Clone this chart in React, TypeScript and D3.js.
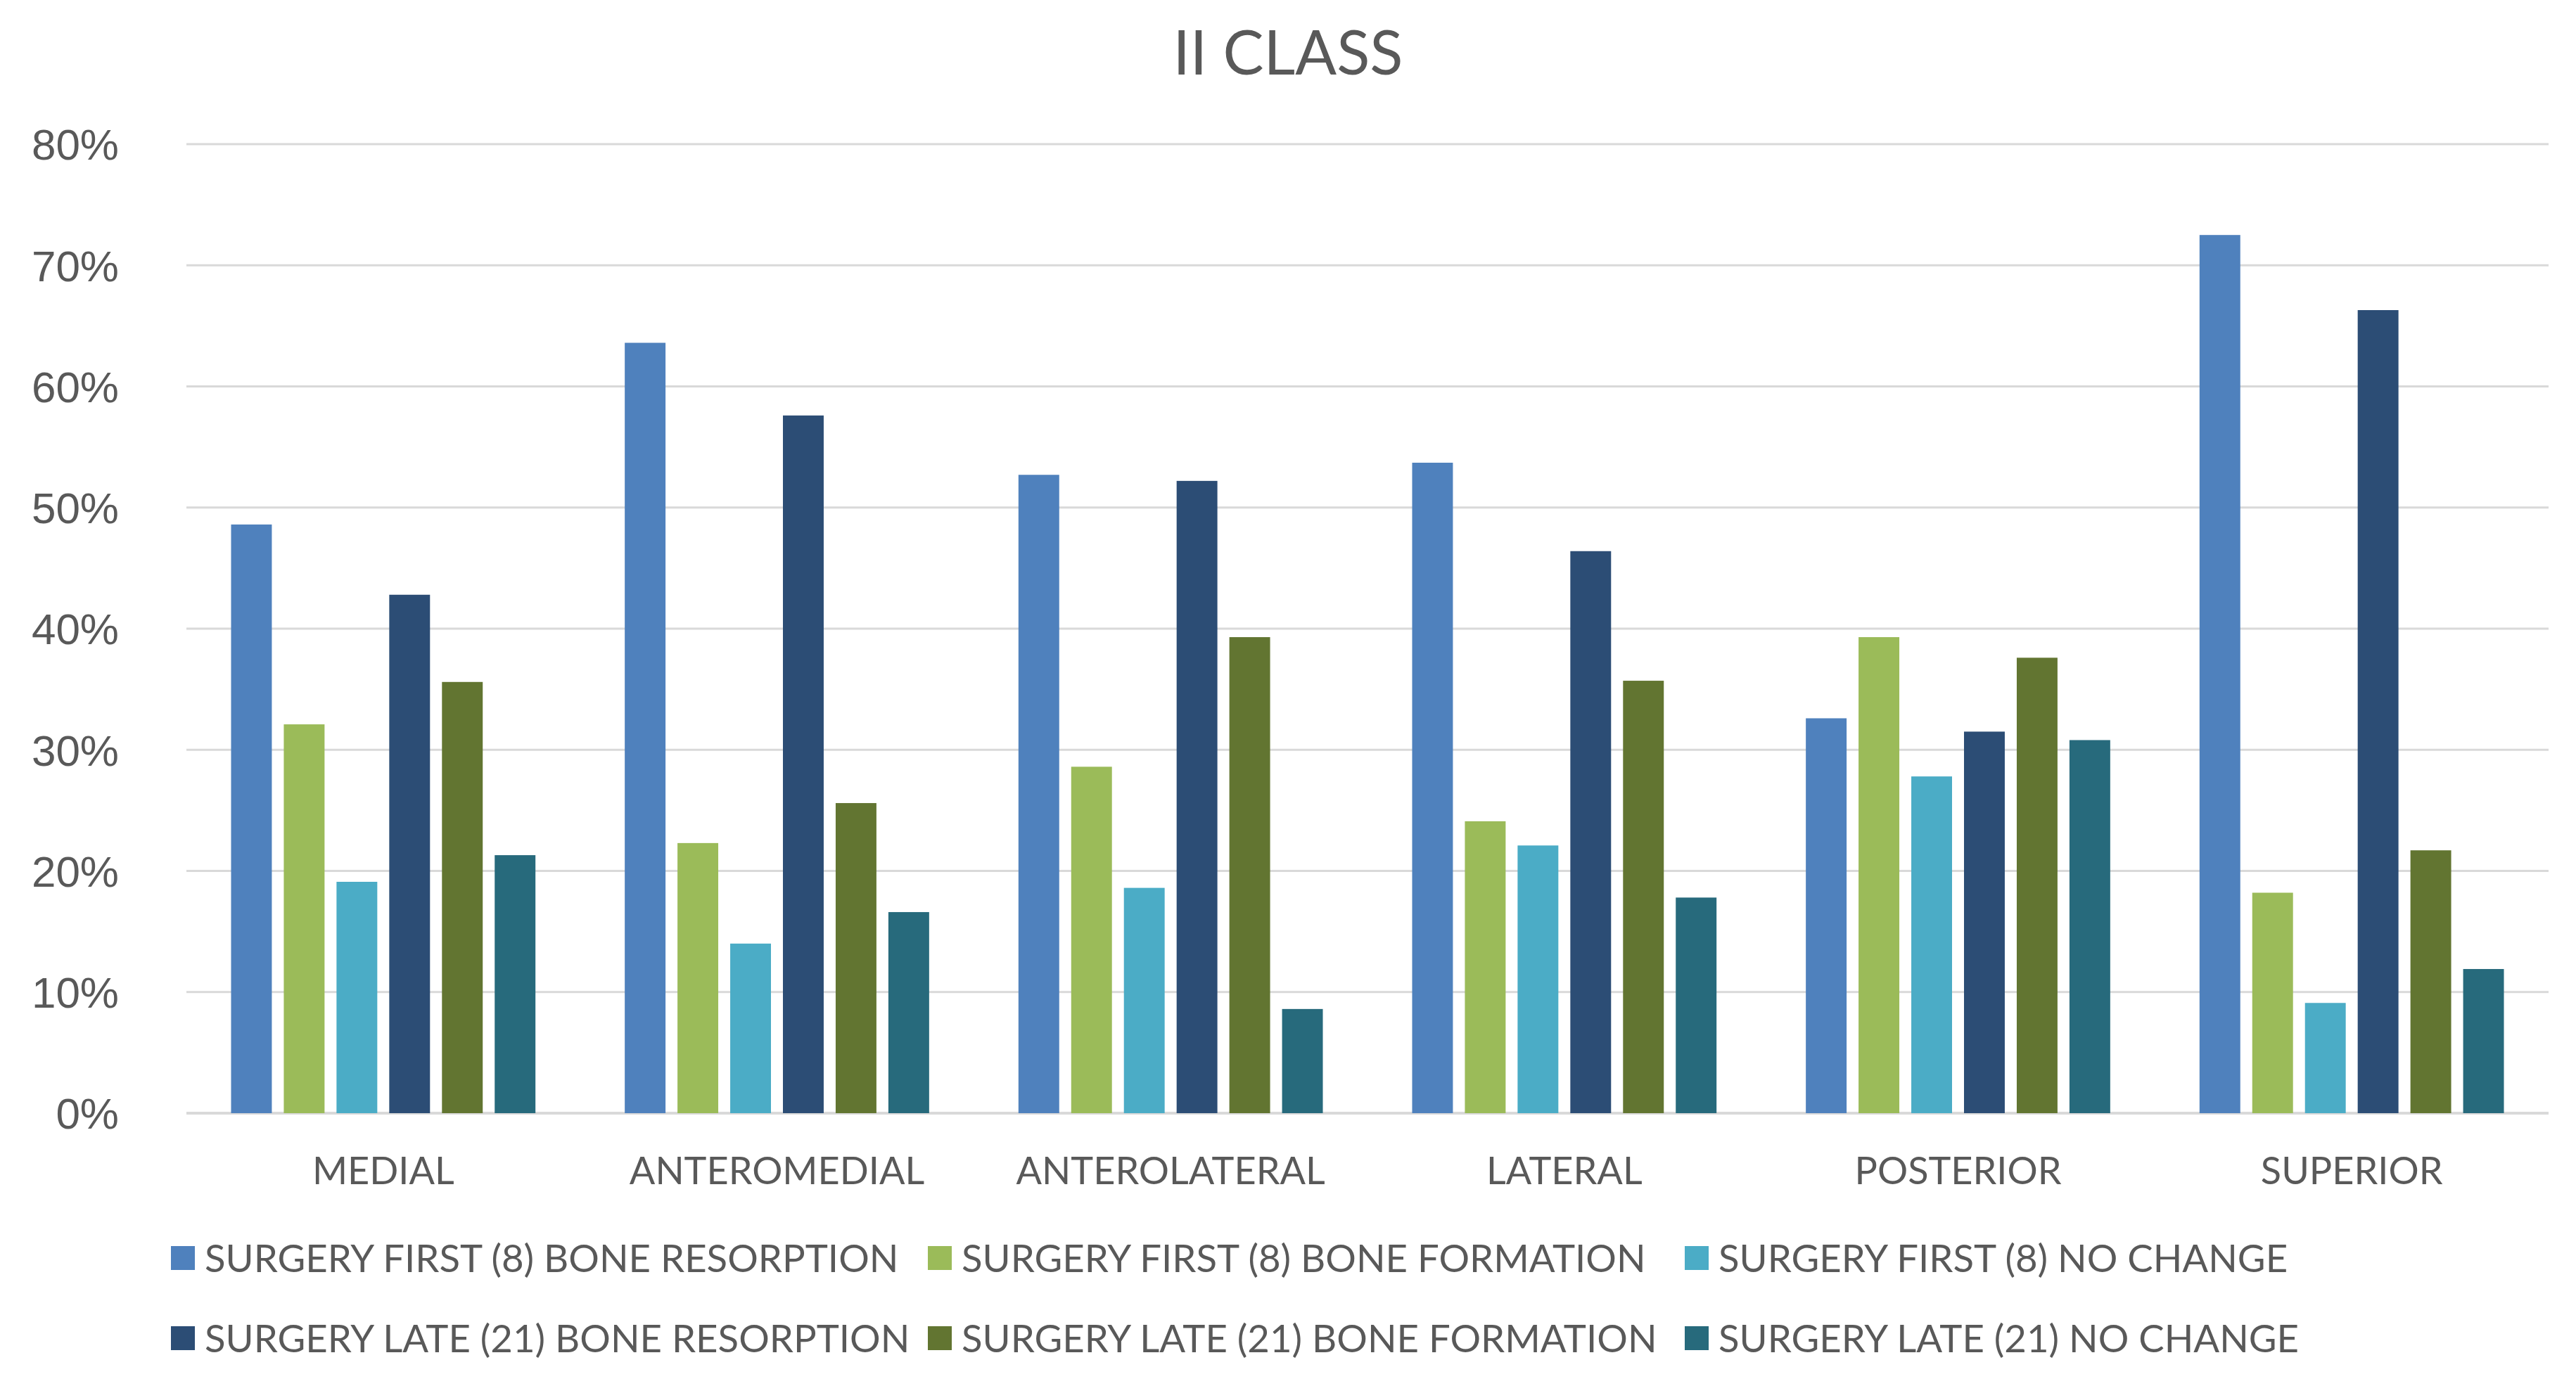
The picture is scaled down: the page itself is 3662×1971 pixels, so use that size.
import { useRef, useEffect } from 'react'
import * as d3 from 'd3'

const categories = ["MEDIAL", "ANTEROMEDIAL", "ANTEROLATERAL", "LATERAL", "POSTERIOR", "SUPERIOR"]

const seriesNames = [
  "SURGERY FIRST (8) BONE RESORPTION",
  "SURGERY FIRST (8) BONE FORMATION",
  "SURGERY FIRST (8) NO CHANGE",
  "SURGERY LATE (21) BONE RESORPTION",
  "SURGERY LATE (21) BONE FORMATION",
  "SURGERY LATE (21) NO CHANGE",
]

// values per series, in category order (fractions)
const firstResorption = [0.486, 0.636, 0.527, 0.537, 0.326, 0.725]
const firstFormation = [0.321, 0.223, 0.286, 0.241, 0.393, 0.182]
const firstNoChange = [0.191, 0.140, 0.186, 0.221, 0.278, 0.091]
const lateResorption = [0.428, 0.576, 0.522, 0.464, 0.315, 0.663]
const lateFormation = [0.356, 0.256, 0.393, 0.357, 0.376, 0.217]
const lateNoChange = [0.213, 0.166, 0.086, 0.178, 0.308, 0.119]

const seriesValues = [firstResorption, firstFormation, firstNoChange, lateResorption, lateFormation, lateNoChange]

const colors = ["#4F81BD", "#9BBB59", "#4BACC6", "#2C4D75", "#627531", "#276A7C"]

const yTicks = [0, 0.1, 0.2, 0.3, 0.4, 0.5, 0.6, 0.7, 0.8]

const WIDTH = 3662
const HEIGHT = 1971
const TEXT = "#595959"
const FONT = "Lato, 'Open Sans', sans-serif"

export default function App() {
  const svgRef = useRef<SVGSVGElement>(null)

  useEffect(() => {
    if (!svgRef.current) return
    const svg = d3.select(svgRef.current)
    svg.selectAll("*").remove()

    const plot = { left: 265, right: 3623, top: 205, bottom: 1583 }

    const x0 = d3.scaleBand()
      .domain(categories)
      .range([plot.left, plot.right])
      .padding(0)

    const x1 = d3.scaleBand()
      .domain(seriesNames)
      .range([0, x0.bandwidth()])
      .paddingInner(0.227)
      .paddingOuter(0.847)

    const y = d3.scaleLinear()
      .domain([0, 0.8])
      .range([plot.bottom, plot.top])

    svg.append("rect")
      .attr("width", WIDTH)
      .attr("height", HEIGHT)
      .attr("fill", "#ffffff")

    // title
    svg.append("text")
      .attr("x", WIDTH / 2)
      .attr("y", 106)
      .attr("text-anchor", "middle")
      .attr("font-family", FONT)
      .attr("font-size", 87)
      .attr("fill", TEXT)
      .text("II CLASS")

    // gridlines
    svg.append("g")
      .selectAll("line")
      .data(yTicks)
      .enter()
      .append("line")
      .attr("x1", plot.left)
      .attr("x2", plot.right)
      .attr("y1", d => y(d))
      .attr("y2", d => y(d))
      .attr("stroke", "#D9D9D9")
      .attr("stroke-width", d => d === 0 ? 4 : 3)

    // y labels
    svg.append("g")
      .selectAll("text")
      .data(yTicks)
      .enter()
      .append("text")
      .attr("x", 169)
      .attr("y", d => y(d))
      .attr("dy", "0.36em")
      .attr("text-anchor", "end")
      .attr("font-family", "'Liberation Sans', Arial, sans-serif")
      .attr("font-size", 62)
      .attr("fill", TEXT)
      .text(d => d3.format(".0%")(d))

    // bars
    const groups = svg.append("g")
      .selectAll("g")
      .data(categories)
      .enter()
      .append("g")
      .attr("transform", d => `translate(${x0(d)},0)`)

    groups.selectAll("rect")
      .data((_, ci) => seriesNames.map((s, si) => ({ s, si, v: seriesValues[si][ci] })))
      .enter()
      .append("rect")
      .attr("x", d => x1(d.s) || 0)
      .attr("y", d => y(d.v))
      .attr("width", x1.bandwidth())
      .attr("height", d => plot.bottom - y(d.v))
      .attr("fill", d => colors[d.si])

    // category labels
    svg.append("g")
      .selectAll("text")
      .data(categories)
      .enter()
      .append("text")
      .attr("x", d => (x0(d) || 0) + x0.bandwidth() / 2)
      .attr("y", 1684)
      .attr("text-anchor", "middle")
      .attr("font-family", FONT)
      .attr("font-size", 54)
      .attr("fill", TEXT)
      .text(d => d)

    // legend: 3 columns x 2 rows
    const legendX = d3.scaleBand()
      .domain(["0", "1", "2"])
      .range([243, 243 + 1076 * 3])
    const legendY = d3.scaleBand()
      .domain(["0", "1"])
      .range([1732, 1960])

    const items = svg.append("g")
      .selectAll("g")
      .data(seriesNames)
      .enter()
      .append("g")
      .attr("transform", (_, i) => {
        const cx = legendX(String(i % 3)) || 0
        const cy = (legendY(String(Math.floor(i / 3))) || 0) + legendY.bandwidth() / 2
        return `translate(${cx},${cy})`
      })

    items.append("rect")
      .attr("x", 0)
      .attr("y", -17)
      .attr("width", 34)
      .attr("height", 34)
      .attr("fill", (_, i) => colors[i])

    items.append("text")
      .attr("x", 48)
      .attr("y", 0)
      .attr("dy", "0.36em")
      .attr("font-family", FONT)
      .attr("font-size", 54.5)
      .attr("fill", TEXT)
      .text(d => d)
  }, [])

  return (
    <svg
      ref={svgRef}
      width={WIDTH}
      height={HEIGHT}
      style={{ position: 'absolute', left: 0, top: 0 }}
    />
  )
}
